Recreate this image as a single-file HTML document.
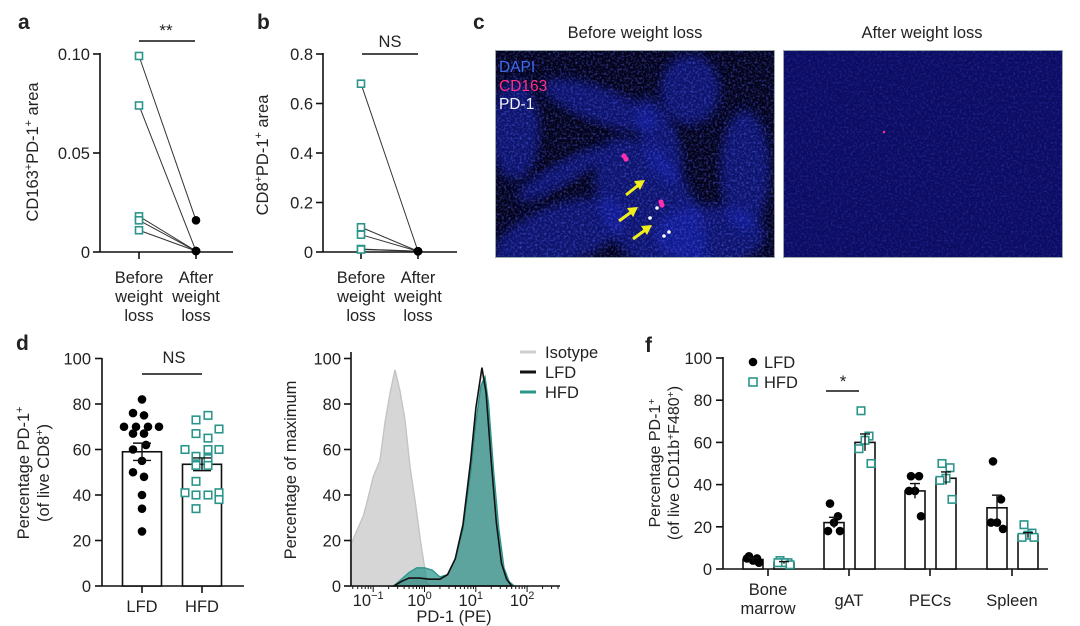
<!DOCTYPE html>
<html><head><meta charset="utf-8">
<style>
html,body{margin:0;padding:0;background:#fff;}
svg{display:block;font-family:"Liberation Sans",Arial,sans-serif;}
text{fill:#222;}
</style></head>
<body>
<svg id="fig" width="1080" height="626" viewBox="0 0 1080 626" xmlns="http://www.w3.org/2000/svg">
<defs>
<filter id="blur3"><feGaussianBlur stdDeviation="5"/></filter>
<filter id="noise" x="0" y="0" width="100%" height="100%">
<feTurbulence type="fractalNoise" baseFrequency="0.45" numOctaves="2" seed="3"/>
<feColorMatrix values="0 0 0 0 0.12  0 0 0 0 0.15  0 0 0 0 1  0 0 0 2.2 -1.0"/>
</filter>
<clipPath id="clipL"><rect x="495" y="50" width="280" height="208"/></clipPath>
</defs>
<g id="root"></g>
</svg>
<script>
// ---------- data ----------
const aBefore = [0.099, 0.074, 0.018, 0.016, 0.011];
const aAfter  = [0.016, 0.0005, 0.0005, 0.0005, 0.0005];
const aTicks = [0, 0.05, 0.10];
const aTickLabels = ["0", "0.05", "0.10"];
const bBefore = [0.68, 0.10, 0.07, 0.012, 0.010];
const bAfter  = [0.003, 0.003, 0.003, 0.003, 0.003];
const bTicks = [0, 0.2, 0.4, 0.6, 0.8];
const bTickLabels = ["0", "0.2", "0.4", "0.6", "0.8"];
const dCategories = ["LFD", "HFD"];
const dMeans = [59, 53.5];
const dSem = [3.8, 2.8];
const dLFD = [82, 76, 75, 70, 70, 70, 70, 67, 67, 62, 60, 55, 50, 48, 40, 34, 24];
const dHFD = [75, 73, 69, 67, 65, 60, 60, 60, 57, 56, 53, 53, 46, 41, 40, 40, 41, 38, 34];
const dTicks = [0, 20, 40, 60, 80, 100];
const isoX = [-1.44, -1.19, -1.13, -1.0, -0.87, -0.77, -0.67, -0.575, -0.48, -0.38, -0.28, -0.18, -0.08, -0.01, 0.05, 0.12];
const isoY = [18, 31, 36, 48, 55, 72, 85, 95, 86, 73, 52, 37, 20, 10, 1, 0];
const hfdX = [-0.6, -0.45, -0.3, -0.15, 0, 0.15, 0.3, 0.45, 0.6, 0.75, 0.9, 1.0, 1.1, 1.18, 1.25, 1.35, 1.45, 1.55, 1.65, 1.75];
const hfdY = [0, 3, 6, 8, 8, 7, 4, 5, 12, 25, 50, 72, 88, 92, 80, 50, 25, 8, 2, 0];
const lfdX = [-0.6, -0.45, -0.3, -0.1, 0.1, 0.3, 0.45, 0.6, 0.75, 0.9, 1.0, 1.12, 1.2, 1.3, 1.4, 1.5, 1.6, 1.7];
const lfdY = [0, 2, 3.5, 3.5, 3, 3, 5, 12, 27, 55, 78, 96, 85, 55, 28, 10, 3, 0];
const histXTicks = [-1, 0, 1, 2];
const histYTicks = [0, 20, 40, 60, 80, 100];
const fCategories = ["Bone marrow", "gAT", "PECs", "Spleen"];
const fMeansLFD = [4.5, 22, 37, 29];
const fMeansHFD = [3, 60, 43, 16];
const fSemLFD = [0.8, 2.5, 3.5, 6];
const fSemHFD = [0.5, 4, 3, 1.2];
const fPtsLFD = [[6, 5, 4, 5, 3], [31, 25, 22, 18, 18], [44, 44, 37, 37, 25], [51, 33, 22, 22, 19]];
const fPtsHFD = [[4, 3, 3, 3, 2], [75, 63, 61, 57, 50], [50, 48, 43, 42, 33], [21, 17, 16, 15, 15]];
const fTicks = [0, 20, 40, 60, 80, 100];

// ---------- helpers ----------
const NS = "http://www.w3.org/2000/svg";
const root = document.getElementById("root");
const TEAL = "#2b958b";
function mk(tag, attrs, parent) {
  const e = document.createElementNS(NS, tag);
  for (const k in attrs) e.setAttribute(k, attrs[k]);
  (parent || root).appendChild(e);
  return e;
}
function txt(x, y, s, size, anchor, parent, extra) {
  const t = mk("text", Object.assign({x: x, y: y, "font-size": size, "text-anchor": anchor || "start"}, extra || {}), parent);
  t.textContent = s;
  return t;
}
function group(name) {
  const g = mk("g", {});
  
  
  return g;
}
function line(x1, y1, x2, y2, parent, w, col) {
  return mk("line", {x1: x1, y1: y1, x2: x2, y2: y2, stroke: col || "#111", "stroke-width": w || 1.6}, parent);
}
function dot(x, y, parent) {
  const c = mk("circle", {cx: x, cy: y, r: 4.3, fill: "#000"}, parent);
  
  
  return c;
}
function sq(x, y, parent, s) {
  s = s || 8.5;
  const r = mk("rect", {x: x - s / 2, y: y - s / 2, width: s, height: s, fill: "#fff", stroke: TEAL, "stroke-width": 1.6}, parent);
  
  
  return r;
}
function panelLetter(x, y, s) {
  const t = txt(x, y, s, 21, "start", null, {"font-weight": "bold"});
  
  
}
function vtitle(x, y, lines, size, parent) {
  const g = mk("g", {}, parent);
  
  
  lines.forEach(function (ln, i) {
    const t = mk("text", {transform: "translate(" + (x + i * size * 1.2) + "," + y + ") rotate(-90)", "font-size": size, "text-anchor": "middle", x: 0, y: 0}, g);
    ln.forEach(function (seg) {
      const s2 = mk("tspan", seg[1] ? {"font-size": size * 0.65, "baseline-shift": "super"} : {}, t);
      s2.textContent = seg[0];
    });
  });
  return g;
}

// ---------- panel a ----------
panelLetter(18, 29, "a");
(function () {
  const g = group("panel-a-chart");
  const y = v => 252 - v / 0.1 * 198;
  const xB = 139, xA = 196;
  line(100, 252, 233, 252, g); line(100, 252, 100, 53, g);
  aTicks.forEach((t, i) => { line(93, y(t), 100, y(t), g); txt(90, y(t) + 6, aTickLabels[i], 16.5, "end", g); });
  line(xB, 252, xB, 259, g); line(xA, 252, xA, 259, g);
  [["Before", "weight", "loss", xB], ["After", "weight", "loss", xA]].forEach(c => {
    for (let k = 0; k < 3; k++) txt(c[3], 283 + k * 19, c[k], 16.5, "middle", g);
  });
  vtitle(38, 152, [[["CD163"], ["+", 1], ["PD-1"], ["+", 1], [" area"]]], 16.5, g);
  aBefore.forEach((v, i) => {
    const l = line(xB, y(v), xA, y(aAfter[i]), g, 1, "#333");
    
    
  });
  aAfter.forEach(v => dot(xA, y(v), g));
  aBefore.forEach(v => sq(xB, y(v), g, 7));
  line(139, 41, 195, 41, g, 1.4);
  txt(166, 36, "**", 17, "middle", g);
})();

// ---------- panel b ----------
panelLetter(257, 29, "b");
(function () {
  const g = group("panel-b-chart");
  const y = v => 252 - v / 0.8 * 198;
  const xB = 361, xA = 418;
  line(323, 252, 457, 252, g); line(323, 252, 323, 53, g);
  bTicks.forEach((t, i) => { line(316, y(t), 323, y(t), g); txt(313, y(t) + 6, bTickLabels[i], 16.5, "end", g); });
  line(xB, 252, xB, 259, g); line(xA, 252, xA, 259, g);
  [["Before", "weight", "loss", xB], ["After", "weight", "loss", xA]].forEach(c => {
    for (let k = 0; k < 3; k++) txt(c[3], 283 + k * 19, c[k], 16.5, "middle", g);
  });
  vtitle(268, 155, [[["CD8"], ["+", 1], ["PD-1"], ["+", 1], [" area"]]], 16.5, g);
  bBefore.forEach((v, i) => {
    const l = line(xB, y(v), xA, y(bAfter[i]), g, 1, "#333");
    
    
  });
  bAfter.forEach(v => dot(xA, y(v), g));
  bBefore.forEach(v => sq(xB, y(v), g, 7));
  line(362, 54, 418, 54, g, 1.4);
  txt(390, 47, "NS", 16.5, "middle", g);
})();

// ---------- panel c (micrographs) ----------
panelLetter(473, 29, "c");
(function () {
  const g = group("panel-c-images");
  txt(635, 38, "Before weight loss", 16.5, "middle", g);
  txt(922, 38, "After weight loss", 16.5, "middle", g);
  const L = mk("g", {"clip-path": "url(#clipL)"}, g);
  
  
  mk("rect", {x: 495, y: 50, width: 280, height: 208, fill: "#03031a"}, L);
  const blobs = [[560, 235, 70, 30, -20], [650, 210, 45, 80, -30], [710, 235, 55, 30, 0], [600, 105, 60, 18, 20], [690, 90, 30, 35, 0], [745, 170, 25, 60, 0], [515, 130, 25, 50, 0], [660, 140, 18, 45, -20], [560, 175, 50, 12, -30]];
  blobs.forEach(b => mk("ellipse", {cx: b[0], cy: b[1], rx: b[2], ry: b[3], fill: "#1420b0", filter: "url(#blur3)", opacity: 0.55, transform: "rotate(" + b[4] + " " + b[0] + " " + b[1] + ")"}, L));
  mk("rect", {x: 495, y: 50, width: 280, height: 208, filter: "url(#noise)", opacity: 0.6}, L);
  [[624, 156], [626, 159], [661, 202], [662, 205]].forEach(p => mk("circle", {cx: p[0], cy: p[1], r: 2.6, fill: "#ff2fb0"}, L));
  [[657, 208], [650, 218], [669, 232], [664, 236]].forEach(p => mk("circle", {cx: p[0], cy: p[1], r: 1.8, fill: "#fff"}, L));
  const arrows = [[626, 195, 645, 180], [619, 221, 638, 207], [633, 239, 652, 225]];
  arrows.forEach(a => {
    const ar = mk("g", {}, L);
    
    
    mk("line", {x1: a[0], y1: a[1], x2: a[2] - 4, y2: a[3] + 3, stroke: "#f2ee1a", "stroke-width": 3}, ar);
    mk("polygon", {points: a[2] + "," + a[3] + " " + (a[2] - 11) + "," + (a[3] + 1) + " " + (a[2] - 5) + "," + (a[3] + 10), fill: "#f2ee1a"}, ar);
  });
  mk("rect", {x: 495.5, y: 50.5, width: 279, height: 207, fill: "none", stroke: "#9aa", "stroke-width": 1}, g);
  txt(499, 72, "DAPI", 15.5, "start", g, {style: "fill:#3d6cf0"});
  txt(499, 91, "CD163", 15.5, "start", g, {style: "fill:#ff2e86"});
  txt(499, 109, "PD-1", 15.5, "start", g, {style: "fill:#f4f4f4"});
  const R = mk("g", {}, g);
  
  
  mk("rect", {x: 783, y: 50, width: 280, height: 208, fill: "#0c0c62"}, R);
  mk("rect", {x: 783, y: 50, width: 280, height: 208, filter: "url(#noise)", opacity: 0.3}, R);
  mk("circle", {cx: 884, cy: 132, r: 1.2, fill: "#ff3090"}, R);
  mk("rect", {x: 783.5, y: 50.5, width: 279, height: 207, fill: "none", stroke: "#9aa", "stroke-width": 1}, R);
})();

// ---------- panel d ----------
panelLetter(16, 350, "d");
(function () {
  const g = group("panel-d-chart");
  const y = v => 586 - v * 2.275;
  const xc = [142, 202];
  line(102, 586, 244, 586, g); line(102, 586, 102, 358, g);
  dTicks.forEach(t => { line(95, y(t), 102, y(t), g); txt(91, y(t) + 6, String(t), 16.5, "end", g); });
  dCategories.forEach((c, i) => {
    const b = mk("rect", {x: xc[i] - 19.5, y: y(dMeans[i]), width: 39, height: 586 - y(dMeans[i]), fill: "#fff", stroke: "#111", "stroke-width": 1.6}, g);
    
    
    line(xc[i], 586, xc[i], 593, g);
    txt(xc[i], 612, c, 16.5, "middle", g);
  });
  const offL = [0, -9, 2, -18, -6, 6, 17, -9, 2, 4, -9, 0, -9, 2, 0, 0, 0];
  dLFD.forEach((v, i) => dot(xc[0] + offL[i % offL.length], y(v), g));
  const offH = [6, -6, 17, -6, 6, -17, 6, 17, -6, 6, -6, 6, -6, -17, -6, 6, 17, 17, -6];
  dHFD.forEach((v, i) => sq(xc[1] + offH[i % offH.length], y(v), g, 7.5));
  dCategories.forEach((c, i) => {
    line(xc[i], y(dMeans[i] - dSem[i]), xc[i], y(dMeans[i] + dSem[i]), g, 1.4);
    line(xc[i] - 9, y(dMeans[i] + dSem[i]), xc[i] + 9, y(dMeans[i] + dSem[i]), g, 1.4);
    line(xc[i] - 9, y(dMeans[i] - dSem[i]), xc[i] + 9, y(dMeans[i] - dSem[i]), g, 1.4);
  });
  line(142, 374, 202, 374, g, 1.4);
  txt(174, 363, "NS", 16.5, "middle", g);
  vtitle(29, 473, [[["Percentage PD-1"], ["+", 1]], [["(of live CD8"], ["+", 1], [")"]]], 16.5, g);
})();

// ---------- histogram ----------
(function () {
  const g = group("panel-e-histogram");
  const x = l => 424.5 + l * 51.3;
  const y = v => 586 - v * 2.275;
  function area(xs, ys) {
    let d = "M" + x(xs[0]) + "," + y(0);
    xs.forEach((xv, i) => { d += " L" + x(xv) + "," + y(ys[i]); });
    d += " L" + x(xs[xs.length - 1]) + "," + y(0) + " Z";
    return d;
  }
  const iso = mk("path", {d: area(isoX, isoY), fill: "#d6d6d6", stroke: "#c4c4c4", "stroke-width": 1.4}, g);
  
  
  const hfd = mk("path", {d: area(hfdX, hfdY), fill: "rgba(40,150,140,0.72)", stroke: "#2b958b", "stroke-width": 1.3}, g);
  
  
  const lfd = mk("path", {d: area(lfdX, lfdY), fill: "rgba(60,60,60,0.12)", stroke: "#111", "stroke-width": 1.6}, g);
  
  
  line(351, 586, 560, 586, g); line(351, 586, 351, 352, g);
  histYTicks.forEach(t => { line(344, y(t), 351, y(t), g); txt(341, y(t) + 6, String(t), 16.5, "end", g); });
  for (let d = -2; d <= 2; d++) for (let m = 1; m <= 9; m++) {
    const xv = x(d + Math.log10(m));
    if (xv < 351 || xv > 558) continue;
    line(xv, 586, xv, 586 + (m === 1 ? 6 : 3), g, 1);
  }
  histXTicks.forEach(t => {
    const tt = txt(x(t) - 5, 606, "10", 16.5, "middle", g);
    const s = mk("tspan", {"font-size": 11, dy: -7}, tt); s.textContent = t < 0 ? "\u2212" + (-t) : String(t);
  });
  txt(454, 622, "PD-1  (PE)", 16.5, "middle", g);
  vtitle(296, 470, [[["Percentage of maximum"]]], 16.5, g);
  const leg = [["Isotype", "#cfcfcf"], ["LFD", "#111"], ["HFD", TEAL]];
  leg.forEach((l, i) => {
    const lg = mk("g", {}, g);
    
    
    line(520, 352 + i * 20, 536, 352 + i * 20, lg, 3, l[1]);
    txt(545, 358 + i * 20, l[0], 16.5, "start", lg);
  });
})();

// ---------- panel f ----------
panelLetter(645, 352, "f");
(function () {
  const g = group("panel-f-chart");
  const y = v => 569 - v * 2.11;
  const xc = [768, 849, 930, 1012];
  line(723, 569, 1048, 569, g); line(723, 569, 723, 357, g);
  fTicks.forEach(t => { line(716, y(t), 723, y(t), g); txt(712, y(t) + 6, String(t), 16.5, "end", g); });
  fCategories.forEach((c, i) => {
    [[fMeansLFD, fSemLFD, fPtsLFD, -15, "lfd"], [fMeansHFD, fSemHFD, fPtsHFD, 16, "hfd"]].forEach(s => {
      const cx = xc[i] + s[3];
      const m = s[0][i], e = s[1][i];
      const b = mk("rect", {x: cx - 10, y: y(m), width: 20, height: 569 - y(m), fill: "#fff", stroke: "#111", "stroke-width": 1.6}, g);
      
      
      const offs = [-4, 4, 0, -6, 6];
      s[2][i].forEach((v, k) => {
        if (s[4] === "lfd") dot(cx + offs[k], y(v), g); else sq(cx + offs[k], y(v), g, 7.5);
      });
      line(cx, y(m - e), cx, y(m + e), g, 1.4);
      line(cx - 5, y(m + e), cx + 5, y(m + e), g, 1.4);
    });
    line(xc[i], 569, xc[i], 576, g);
  });
  txt(768, 595, "Bone", 16.5, "middle", g); txt(768, 614, "marrow", 16.5, "middle", g);
  txt(849, 606, "gAT", 16.5, "middle", g);
  txt(930, 606, "PECs", 16.5, "middle", g);
  txt(1012, 606, "Spleen", 16.5, "middle", g);
  line(826, 391, 859, 391, g, 1.4);
  txt(843, 387, "*", 17, "middle", g);
  dot(753, 362, g); txt(764, 368, "LFD", 16.5, "start", g);
  sq(753, 382, g, 8); txt(764, 388, "HFD", 16.5, "start", g);
  vtitle(660, 463, [[["Percentage PD-1"], ["+", 1]], [["(of live CD11b"], ["+", 1], ["F480"], ["+", 1], [")"]]], 16, g);
})();
</script>
</body></html>
